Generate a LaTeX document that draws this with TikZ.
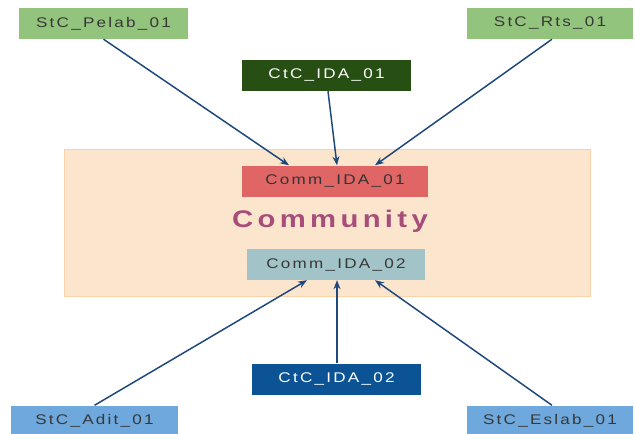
\documentclass[tikz,border=0pt]{standalone}
\usepackage{fontspec}
\setmainfont[FakeStretch=1.22,LetterSpace=16]{Liberation Sans}
\usetikzlibrary{arrows.meta}
\definecolor{stcgreen}{RGB}{147,196,125}
\definecolor{ctcgreen}{RGB}{39,78,19}
\definecolor{commred}{RGB}{224,102,102}
\definecolor{commteal}{RGB}{162,196,201}
\definecolor{ctcblue}{RGB}{11,83,148}
\definecolor{stcblue}{RGB}{111,168,220}
\definecolor{commfill}{RGB}{252,229,205}
\definecolor{commedge}{RGB}{249,210,170}
\definecolor{commtext}{RGB}{166,77,121}
\definecolor{link}{RGB}{31,73,125}

\begin{document}
\begin{tikzpicture}[x=1pt,y=-1pt,
    box/.style={minimum width=169pt,minimum height=31pt,inner sep=0pt,
        font=\fontsize{14}{16}\selectfont,text=black!78},
    darkbox/.style={box,text=white!88},
    feed/.style={draw=link,line width=1.5pt,-{Stealth[length=9pt,width=7pt]}}]
    \useasboundingbox (0,0) rectangle (635,434);
    \clip (0,0) rectangle (635,434);

    % Community area
    \node[draw=commedge,fill=commfill,minimum width=526pt,minimum height=147pt,
        inner sep=0pt] (community) at (327,222.5) {};
    \node[text=commtext,font=\fontsize{24}{26}\selectfont\bfseries\addfontfeatures{LetterSpace=18}] (title) at (330,221) {Community};
    \node[box,fill=commred,minimum width=186pt,text=black!80] (comm1) at (335,181) {Comm\_IDA\_01};
    \node[box,fill=commteal,minimum width=178pt] (comm2) at (336,264.5) {Comm\_IDA\_02};

    % Upper sources
    \node[box,fill=stcgreen] (pelab) at (103.5,23.5) {StC\_Pelab\_01};
    \node[darkbox,fill=ctcgreen] (ctc1) at (326.5,75.5) {CtC\_IDA\_01};
    \node[box,fill=stcgreen,minimum width=166pt] (rts) at (550,23.5) {StC\_Rts\_01};

    % Lower sources
    \node[box,fill=stcblue,minimum width=167pt] (adit) at (94.5,421) {StC\_Adit\_01};
    \node[darkbox,fill=ctcblue] (ctc2) at (336.5,379) {CtC\_IDA\_02};
    \node[box,fill=stcblue,minimum width=166pt] (eslab) at (550,421) {StC\_Eslab\_01};

    % Links
    \draw[feed] (pelab.south) -- ([xshift=-46pt]comm1.north);
    \draw[feed] ([xshift=1.5pt]ctc1.south) -- ([xshift=2pt]comm1.north);
    \draw[feed] ([xshift=2pt]rts.south) -- ([xshift=40pt]comm1.north);
    \draw[feed] (adit.north) -- ([xshift=-29pt]comm2.south);
    \draw[feed] ([xshift=0.5pt]ctc2.north) -- ([xshift=1pt]comm2.south);
    \draw[feed] ([xshift=2pt]eslab.north) -- ([xshift=39pt]comm2.south);
\end{tikzpicture}
\end{document}
